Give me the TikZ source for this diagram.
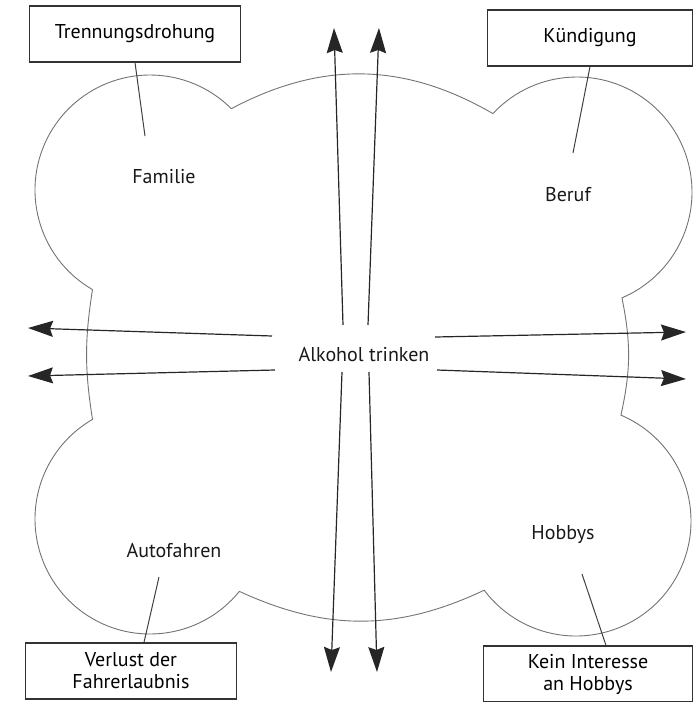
\documentclass[tikz,border=0pt]{standalone}
\usepackage{fontspec}
\setmainfont{PT Sans}
\usetikzlibrary{positioning,calc,arrows.meta}

\begin{document}
\begin{tikzpicture}[x=0.5pt, y=-0.5pt,
    box/.style={draw=black!80, line width=0.6pt, minimum width=105.5pt, minimum height=28pt, align=center, inner sep=2pt, font=\fontsize{10}{11}\selectfont},
    lbl/.style={text=black!90, font=\fontsize{10}{12}\selectfont},
    arr/.style={-{Stealth[length=12.5pt,width=8pt,inset=1.5pt]}, line width=0.6pt, black!85},
    link/.style={line width=0.5pt, black!75},
    cloud/.style={draw=black!55, line width=0.45pt}]
    \useasboundingbox (0,0) rectangle (695,702);

    % centres of the four lobes
    \coordinate (ctl) at (150,190);
    \coordinate (ctr) at (577,192);
    \coordinate (cbl) at (150,519);
    \coordinate (cbr) at (576,521);
    % notches between the lobes
    \coordinate (n1) at ($(ctl)+(45:57.5pt)$);
    \coordinate (n2) at ($(ctr)+(137:57.5pt)$);
    \coordinate (n3) at ($(ctr)+(-67:57.5pt)$);
    \coordinate (n4) at ($(cbr)+(67:57.5pt)$);
    \coordinate (n5) at ($(cbr)+(-143:57.5pt)$);
    \coordinate (n6) at ($(cbl)+(-39:57.5pt)$);
    \coordinate (n7) at ($(cbl)+(120:57.5pt)$);
    \coordinate (n8) at ($(ctl)+(240:57.5pt)$);

    \draw[cloud] (n8) arc[start angle=240, end angle=45, radius=57.5pt]
        to[bend left=29] (n2) arc[start angle=137, end angle=-67, radius=57.5pt]
        to[bend left=12] (n4) arc[start angle=67, end angle=-143, radius=57.5pt]
        to[bend left=25] (n6) arc[start angle=-39, end angle=-240, radius=57.5pt]
        to[bend left=9] (n8);

    % labels
    \node[lbl] (alk) at (364,355) {Alkohol trinken};
    \node[lbl] (fam) at (164,177) {Familie};
    \node[lbl] (ber) at (568,195) {Beruf};
    \node[lbl] (auto) at (174,551) {Autofahren};
    \node[lbl] (hob) at (563,535) {Hobbys};

    % consequences
    \node[box] (trenn) at (135,34) {Trennungsdrohung};
    \node[box, minimum width=102.5pt] (kuend) at (590,38) {Kündigung};
    \node[box] (verl) at (131,671) {Verlust der\\Fahrerlaubnis};
    \node[box, minimum width=104.5pt] (kein) at (588,674) {Kein Interesse\\an Hobbys};

    \coordinate (fam-e) at (145,136);
    \coordinate (ber-e) at (573,153);
    \coordinate (auto-e) at (159,577);
    \coordinate (hob-e) at (582,574);
    \draw[link] (trenn.south) -- (fam-e);
    \draw[link] (kuend.south) -- (ber-e);
    \draw[link] (auto-e) -- ([xshift=6.5pt]verl.north);
    \draw[link] (hob-e) -- ([xshift=9pt]kein.north);

    % arrows out of the centre
    \coordinate (u1) at (343,325);  \coordinate (u1e) at (334,28);
    \coordinate (u2) at (368,325);  \coordinate (u2e) at (379,28);
    \coordinate (d1) at (342,372);  \coordinate (d1e) at (331,672);
    \coordinate (d2) at (369,372);  \coordinate (d2e) at (377,672);
    \coordinate (l1) at (272,336);  \coordinate (l1e) at (28,328);
    \coordinate (l2) at (275,370);  \coordinate (l2e) at (28,376);
    \coordinate (r1) at (435,337);  \coordinate (r1e) at (686,332);
    \coordinate (r2) at (437,370);  \coordinate (r2e) at (686,379);
    \foreach \s in {u1,u2,d1,d2,l1,l2,r1,r2}
        \draw[arr] (\s) -- (\s e);
\end{tikzpicture}
\end{document}
